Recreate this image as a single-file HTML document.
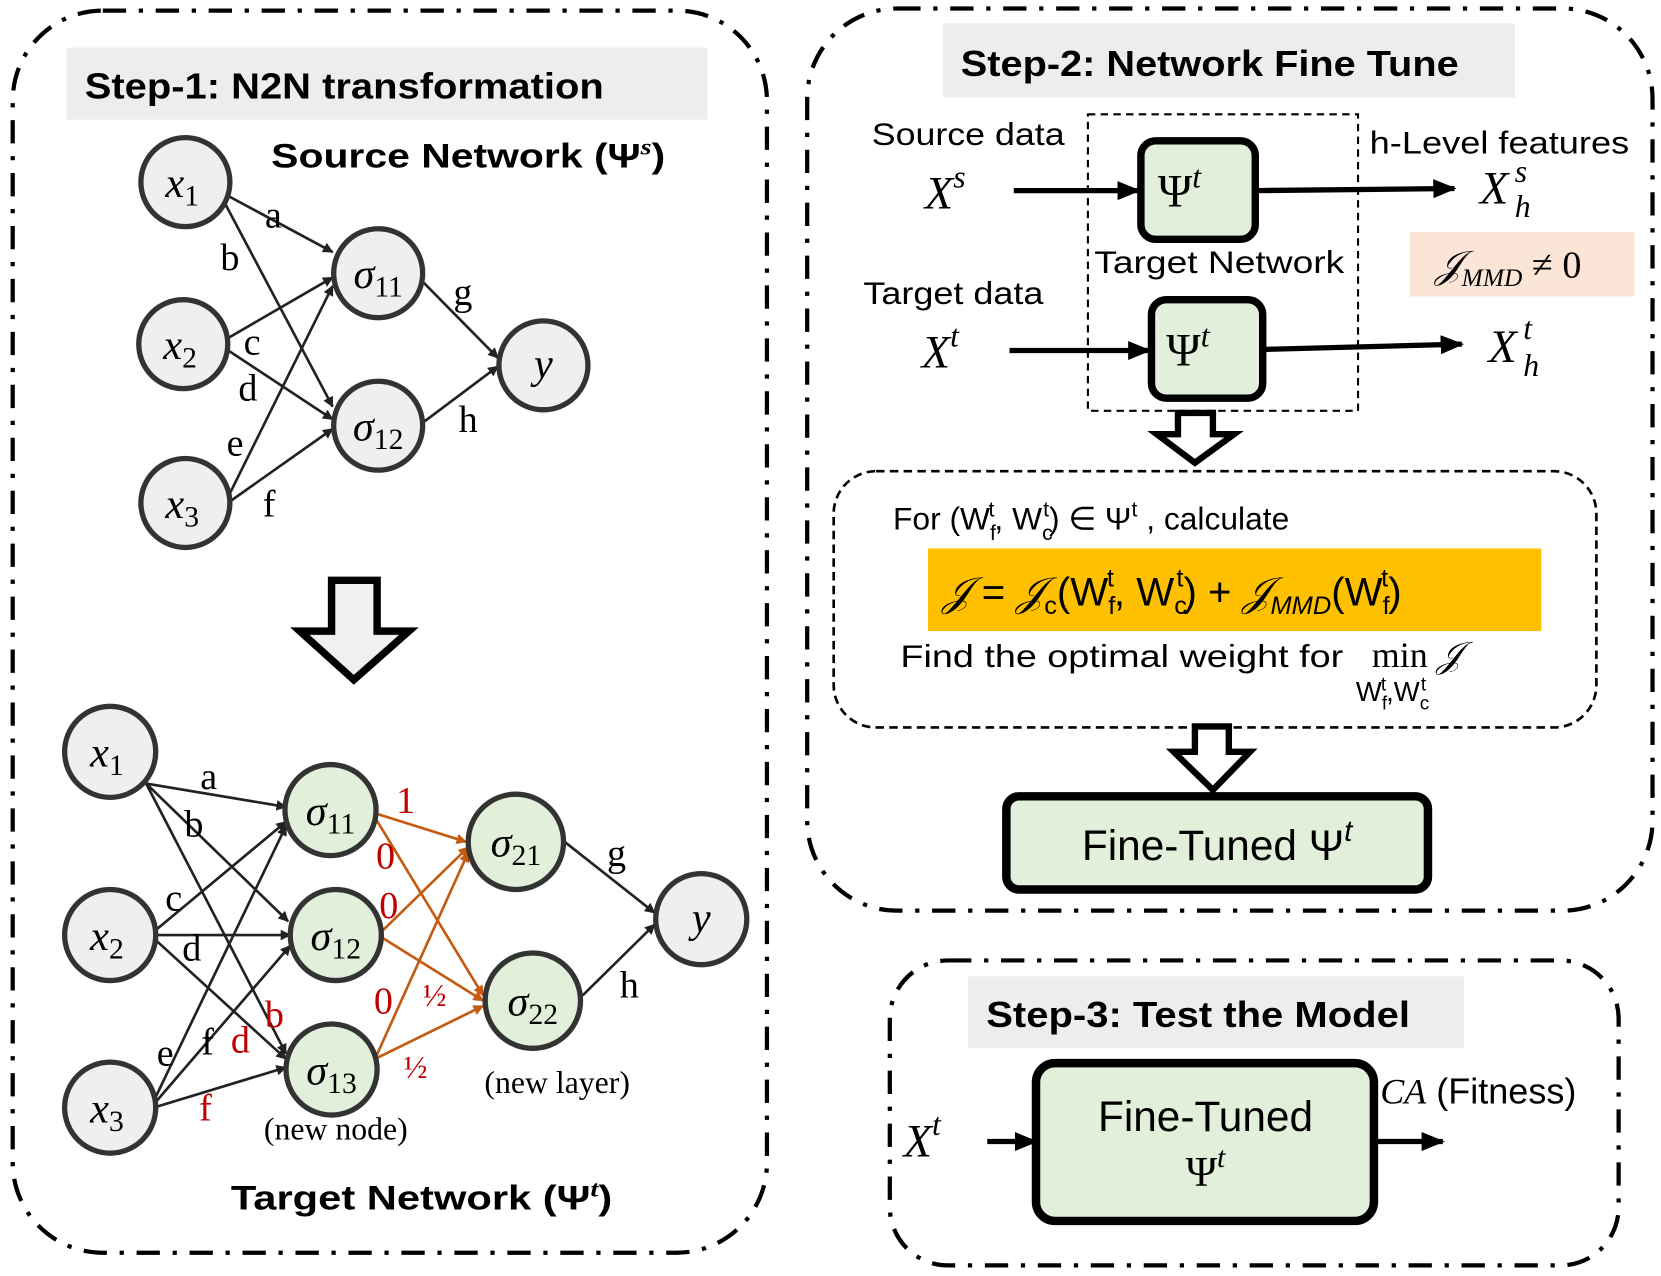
<!DOCTYPE html>
<html><head><meta charset="utf-8"><style>html,body{margin:0;padding:0;background:#fff}svg{display:block}</style></head>
<body>
<svg width="1661" height="1276" viewBox="0 0 1568 1205" preserveAspectRatio="none" xmlns="http://www.w3.org/2000/svg" font-family="Liberation Sans, sans-serif">
<defs>
<marker id="ab" markerWidth="10" markerHeight="10" refX="9" refY="5" orient="auto" markerUnits="userSpaceOnUse"><path d="M0,0 L10,5 L0,10 z" fill="#222"/></marker>
<marker id="ao" markerWidth="10" markerHeight="10" refX="9" refY="5" orient="auto" markerUnits="userSpaceOnUse"><path d="M0,0 L10,5 L0,10 z" fill="#c55a11"/></marker>
<marker id="abig" markerWidth="22" markerHeight="22" refX="20" refY="11" orient="auto" markerUnits="userSpaceOnUse"><path d="M0,2 L22,11 L0,20 z" fill="#000"/></marker>
</defs>
<g fill="none" stroke="#000" stroke-width="4" stroke-dasharray="22,12,4,12">
<rect x="12" y="10" width="712" height="1173" rx="85"/>
<rect x="762" y="8" width="798" height="852" rx="85"/>
<rect x="840" y="907" width="688" height="288" rx="55"/>
</g>
<!-- Step-1 -->
<rect x="63" y="45" width="605" height="68" fill="#ededed"/>
<text x="80" y="93" font-size="34" font-weight="bold" textLength="490" lengthAdjust="spacingAndGlyphs">Step-1: N2N transformation</text>
<text x="256" y="158" font-size="32" font-weight="bold" textLength="372" lengthAdjust="spacingAndGlyphs">Source Network (Ψ<tspan font-size="22" dy="-12" font-style="italic" font-family="Liberation Serif">s</tspan><tspan dy="12">)</tspan></text>
<g stroke="#222" stroke-width="2.5" fill="none" marker-end="url(#ab)">
<line x1="206" y1="180" x2="314" y2="238"/>
<line x1="206" y1="180" x2="314" y2="384"/>
<line x1="214" y1="320" x2="314" y2="262"/>
<line x1="214" y1="330" x2="314" y2="396"/>
<line x1="215" y1="470" x2="314" y2="270"/>
<line x1="215" y1="475" x2="314" y2="405"/>
<line x1="398" y1="265" x2="470" y2="338"/>
<line x1="398" y1="400" x2="470" y2="346"/>
</g>
<g fill="#efefef" stroke="#333" stroke-width="5">
<circle cx="175" cy="172" r="42"/><circle cx="173" cy="325" r="42"/><circle cx="175" cy="475" r="42"/>
<circle cx="357" cy="258" r="42"/><circle cx="357" cy="402" r="42"/><circle cx="513" cy="345" r="42"/>
</g>
<g font-family="Liberation Serif, serif" font-size="40" font-style="italic" text-anchor="middle">
<text x="172" y="186">x<tspan font-size="28" font-style="normal" dy="8">1</tspan></text>
<text x="170" y="339">x<tspan font-size="28" font-style="normal" dy="8">2</tspan></text>
<text x="172" y="489">x<tspan font-size="28" font-style="normal" dy="8">3</tspan></text>
<text x="357" y="272">σ<tspan font-size="28" font-style="normal" dy="8">11</tspan></text>
<text x="357" y="416">σ<tspan font-size="28" font-style="normal" dy="8">12</tspan></text>
<text x="513" y="357">y</text>
</g>
<g font-family="Liberation Serif, serif" font-size="36">
<text x="250" y="215">a</text><text x="208" y="255">b</text><text x="230" y="335">c</text><text x="225" y="378">d</text><text x="214" y="430">e</text><text x="248" y="488">f</text><text x="428" y="288">g</text><text x="433" y="408">h</text>
</g>
<path d="M313,548 H356 V596 H386 L334,642 L283,596 H313 Z" fill="#f0f0f0" stroke="#000" stroke-width="7" stroke-linejoin="miter"/>
<!-- target network -->
<g stroke="#222" stroke-width="2.5" fill="none" marker-end="url(#ab)">
<line x1="138" y1="740" x2="270" y2="762"/>
<line x1="138" y1="740" x2="272" y2="870"/>
<line x1="138" y1="740" x2="270" y2="995"/>
<line x1="145" y1="880" x2="270" y2="776"/>
<line x1="145" y1="883" x2="274" y2="883"/>
<line x1="145" y1="886" x2="270" y2="1000"/>
<line x1="145" y1="1040" x2="270" y2="780"/>
<line x1="145" y1="1043" x2="274" y2="893"/>
<line x1="145" y1="1046" x2="270" y2="1008"/>
<line x1="533" y1="795" x2="618" y2="862"/>
<line x1="550" y1="940" x2="618" y2="873"/>
</g>
<g stroke="#c55a11" stroke-width="2.5" fill="none" marker-end="url(#ao)">
<line x1="354" y1="768" x2="440" y2="795"/>
<line x1="354" y1="772" x2="456" y2="940"/>
<line x1="360" y1="880" x2="442" y2="800"/>
<line x1="360" y1="885" x2="456" y2="945"/>
<line x1="354" y1="1000" x2="442" y2="805"/>
<line x1="354" y1="1000" x2="456" y2="950"/>
</g>
<g fill="#efefef" stroke="#333" stroke-width="5">
<circle cx="104" cy="710" r="43"/><circle cx="104" cy="883" r="43"/><circle cx="104" cy="1046" r="43"/>
<circle cx="662" cy="868" r="43"/>
</g>
<g fill="#e2efda" stroke="#333" stroke-width="5">
<circle cx="312" cy="765" r="43"/><circle cx="317" cy="883" r="43"/><circle cx="313" cy="1010" r="43"/>
<circle cx="487" cy="795" r="45"/><circle cx="503" cy="945" r="45"/>
</g>
<g font-family="Liberation Serif, serif" font-size="40" font-style="italic" text-anchor="middle">
<text x="101" y="724">x<tspan font-size="28" font-style="normal" dy="8">1</tspan></text>
<text x="101" y="897">x<tspan font-size="28" font-style="normal" dy="8">2</tspan></text>
<text x="101" y="1060">x<tspan font-size="28" font-style="normal" dy="8">3</tspan></text>
<text x="312" y="779">σ<tspan font-size="28" font-style="normal" dy="8">11</tspan></text>
<text x="317" y="897">σ<tspan font-size="28" font-style="normal" dy="8">12</tspan></text>
<text x="313" y="1024">σ<tspan font-size="28" font-style="normal" dy="8">13</tspan></text>
<text x="487" y="809">σ<tspan font-size="28" font-style="normal" dy="8">21</tspan></text>
<text x="503" y="959">σ<tspan font-size="28" font-style="normal" dy="8">22</tspan></text>
<text x="662" y="880">y</text>
</g>
<g font-family="Liberation Serif, serif" font-size="36">
<text x="189" y="745">a</text><text x="174" y="790">b</text><text x="156" y="860">c</text><text x="172" y="907">d</text><text x="148" y="1006">e</text><text x="190" y="996">f</text>
<text x="573" y="818">g</text><text x="585" y="942">h</text>
<g fill="#c00000"><text x="250" y="970">b</text><text x="218" y="994">d</text><text x="188" y="1058">f</text>
<text x="374" y="768">1</text><text x="355" y="820">0</text><text x="358" y="867">0</text><text x="353" y="957">0</text><text x="399" y="950" font-size="30">½</text><text x="381" y="1018" font-size="30">½</text></g>
</g>
<text x="317" y="1076" font-family="Liberation Serif, serif" font-size="30" text-anchor="middle">(new node)</text>
<text x="526" y="1032" font-family="Liberation Serif, serif" font-size="30" text-anchor="middle">(new layer)</text>
<text x="218" y="1142" font-size="32" font-weight="bold" textLength="360" lengthAdjust="spacingAndGlyphs">Target Network (Ψ<tspan font-size="22" dy="-12" font-style="italic" font-family="Liberation Serif">t</tspan><tspan dy="12">)</tspan></text>
<!-- Step-2 -->
<rect x="890" y="22" width="540" height="70" fill="#ededed"/>
<text x="907" y="72" font-size="34" font-weight="bold" textLength="470" lengthAdjust="spacingAndGlyphs">Step-2: Network Fine Tune</text>
<text x="823" y="137" font-size="30" textLength="182" lengthAdjust="spacingAndGlyphs">Source data</text>
<text x="815" y="287" font-size="30" textLength="170" lengthAdjust="spacingAndGlyphs">Target data</text>
<text x="1293" y="145" font-size="30" textLength="245" lengthAdjust="spacingAndGlyphs">h-Level features</text>
<text x="1033" y="258" font-size="30" textLength="236" lengthAdjust="spacingAndGlyphs">Target Network</text>
<rect x="1027" y="108" width="255" height="280" fill="none" stroke="#000" stroke-width="2" stroke-dasharray="7,5"/>
<g stroke="#000" stroke-width="5" fill="none" marker-end="url(#abig)">
<line x1="957" y1="180" x2="1075" y2="180"/>
<line x1="1185" y1="180" x2="1373" y2="178"/>
<line x1="953" y1="331" x2="1085" y2="331"/>
<line x1="1192" y1="330" x2="1380" y2="325"/>
<line x1="932" y1="1078" x2="978" y2="1078"/>
<line x1="1297" y1="1078" x2="1362" y2="1078"/>
</g>
<g fill="#e2efda" stroke="#000" stroke-width="7">
<rect x="1077" y="133" width="108" height="93" rx="14"/>
<rect x="1087" y="283" width="105" height="93" rx="14"/>
<rect x="950" y="752" width="398" height="88" rx="12" stroke-width="8"/>
<rect x="978" y="1004" width="319" height="149" rx="18" stroke-width="8"/>
</g>
<g font-family="Liberation Serif, serif" font-size="44">
<text x="1093" y="195">Ψ<tspan font-size="30" font-style="italic" dy="-18">t</tspan></text>
<text x="1101" y="345">Ψ<tspan font-size="30" font-style="italic" dy="-18">t</tspan></text>
<text x="873" y="197" font-style="italic">X<tspan font-size="30" dy="-20">s</tspan></text>
<text x="870" y="347" font-style="italic">X<tspan font-size="30" dy="-20">t</tspan></text>
<text x="1397" y="192" font-style="italic">X</text><text x="1430" y="172" font-size="30" font-style="italic">s</text><text x="1430" y="205" font-size="30" font-style="italic">h</text>
<text x="1405" y="342" font-style="italic">X</text><text x="1438" y="320" font-size="30" font-style="italic">t</text><text x="1438" y="355" font-size="30" font-style="italic">h</text>
<text x="853" y="1092" font-style="italic">X<tspan font-size="30" dy="-20">t</tspan></text>
</g>
<rect x="1331" y="219" width="212" height="61" fill="#fbe5d6"/>
<text x="1355" y="262" font-family="Liberation Serif, serif" font-size="36"><tspan font-style="italic">𝒥</tspan><tspan font-size="24" font-style="italic" dy="8">MMD</tspan><tspan dy="-8"> ≠ 0</tspan></text>
<path d="M1112,390 H1145 V410 H1165 L1128,437 L1092,410 H1112 Z" fill="#fff" stroke="#000" stroke-width="6"/>
<rect x="787" y="445" width="720" height="242" rx="40" fill="none" stroke="#000" stroke-width="2.5" stroke-dasharray="8,5"/>
<text x="843" y="500" font-size="30">For (W<tspan font-size="20" dy="10">f</tspan><tspan font-size="20" dx="-7" dy="-22">t</tspan><tspan dy="12">, W</tspan><tspan font-size="20" dy="10">c</tspan><tspan font-size="20" dx="-9" dy="-22">t</tspan><tspan dy="12">) ∈ Ψ</tspan><tspan font-size="20" dy="-12">t</tspan><tspan dy="12"> , calculate</tspan></text>
<rect x="876" y="518" width="579" height="78" fill="#ffc000"/>
<text x="890" y="572" font-size="38"><tspan font-family="Liberation Serif" font-style="italic">𝒥</tspan> = <tspan font-family="Liberation Serif" font-style="italic">𝒥</tspan><tspan font-size="24" dy="8">c</tspan><tspan dy="-8">(W</tspan><tspan font-size="24" dy="8">f</tspan><tspan font-size="24" dx="-8" dy="-26">t</tspan><tspan dy="18">, W</tspan><tspan font-size="24" dy="8">c</tspan><tspan font-size="24" dx="-10" dy="-26">t</tspan><tspan dy="18">) + </tspan><tspan font-family="Liberation Serif" font-style="italic">𝒥</tspan><tspan font-size="24" font-style="italic" dy="8">MMD</tspan><tspan dy="-8">(W</tspan><tspan font-size="24" dy="8">f</tspan><tspan font-size="24" dx="-8" dy="-26">t</tspan><tspan dy="18">)</tspan></text>
<text x="850" y="630" font-size="30" textLength="418" lengthAdjust="spacingAndGlyphs">Find the optimal weight for</text>
<text x="1295" y="630" font-family="Liberation Serif, serif" font-size="34">min <tspan font-style="italic">𝒥</tspan></text>
<text x="1280" y="662" font-size="26">W<tspan font-size="18" dy="8">f</tspan><tspan font-size="18" dx="-6" dy="-18">t</tspan><tspan dy="10">,W</tspan><tspan font-size="18" dy="8">c</tspan><tspan font-size="18" dx="-8" dy="-18">t</tspan></text>
<path d="M1128,686 H1160 V710 H1180 L1145,746 L1108,710 H1128 Z" fill="#fff" stroke="#000" stroke-width="6"/>
<text x="1149" y="812" font-size="40" text-anchor="middle">Fine-Tuned Ψ<tspan font-size="28" font-style="italic" dy="-18">t</tspan></text>
<!-- Step-3 -->
<rect x="914" y="922" width="468" height="68" fill="#ededed"/>
<text x="931" y="970" font-size="34" font-weight="bold" textLength="400" lengthAdjust="spacingAndGlyphs">Step-3: Test the Model</text>
<text x="1138" y="1068" font-size="40" text-anchor="middle">Fine-Tuned</text>
<text x="1138" y="1120" font-size="40" text-anchor="middle" font-family="Liberation Serif, serif">Ψ<tspan font-size="28" font-style="italic" dy="-18">t</tspan></text>
<text x="1303" y="1042" font-size="34"><tspan font-family="Liberation Serif, serif" font-style="italic">CA</tspan> (Fitness)</text>
</svg>
</body></html>
